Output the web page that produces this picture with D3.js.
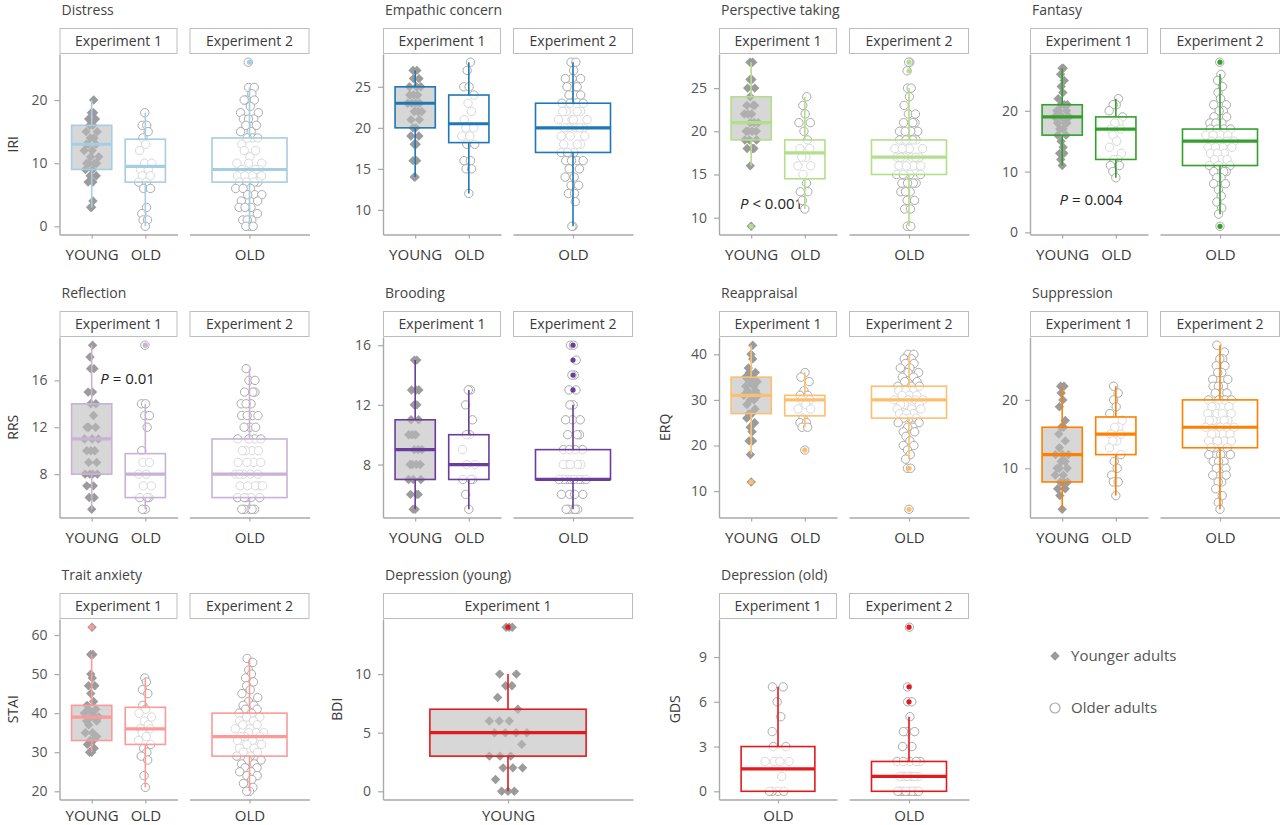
<!DOCTYPE html>
<html><head><meta charset="utf-8">
<script src="https://cdn.jsdelivr.net/npm/d3@7"></script>
<style>body{margin:0;background:#fff} svg{font-family:"Open Sans",sans-serif}</style>
</head><body><svg id="c" width="1280" height="825"></svg>
<script>
// ---------------- DATA ----------------
const panelTitles = ["Distress","Empathic concern","Perspective taking","Fantasy","Reflection","Brooding","Reappraisal","Suppression","Trait anxiety","Depression (young)","Depression (old)"];
const yAxisTitles = ["IRI","","","","RRS","","ERQ","","STAI","BDI","GDS"];
const panelColors = ["#a6cee3","#1f78b4","#b2df8a","#33a02c","#cab2d6","#6a3d9a","#fdbf6f","#ff7f00","#fb9a99","#e31a1c","#e31a1c"];
const facetLabels = ["Experiment 1","Experiment 2"];
const groupLabels = ["YOUNG","OLD"];
const legendLabels = ["Younger adults","Older adults"];
const yTicks = [[0,10,20],[10,15,20,25],[10,15,20,25],[0,10,20],[8,12,16],[8,12,16],[10,20,30,40],[10,20],[20,30,40,50,60],[0,5,10],[0,3,6,9]];

// points (Experiment 1 young, Experiment 1 old, Experiment 2 old)
const distressYoung = [20,18,18,17,17,16,16,15,15,14,14,13,13,13,12,12,11,11,10,10,10,10,9,9,8,8,7,7,4,3,3];
const distressOld1 = [18,16,16,15,14,13,12,10,10,9,9,8,8,7,7,6,6,3,2,1,1,0];
const distressOld2 = [26,22,22,21,20,20,20,19,18,18,17,17,17,16,16,15,15,14,14,14,13,12,12,11,10,10,10,9,9,9,8,8,8,8,7,7,7,7,6,6,6,5,5,5,4,4,3,3,3,2,1,1,1,0,0,0];
const empathicYoung = [27,27,26,26,25,25,25,24,24,24,23,23,23,23,22,22,22,21,21,20,20,19,19,18,18,16,16,14,14];
const empathicOld1 = [28,27,25,25,24,23,22,21,20,20,19,19,18,18,16,16,15,15,12];
const empathicOld2 = [28,28,27,26,26,26,25,25,24,24,24,23,23,23,22,22,22,22,21,21,21,21,20,20,20,20,20,19,19,19,18,18,18,17,17,17,16,16,16,16,15,15,14,14,13,13,12,12,11,8,8];
const perspectiveYoung = [28,28,26,26,25,25,24,23,23,23,22,22,22,21,21,21,20,20,20,20,19,19,19,18,18,18,16,9];
const perspectiveOld1 = [24,23,22,21,21,20,19,18,18,17,17,16,16,15,14,13,13,12,11];
const perspectiveOld2 = [28,28,27,25,25,24,23,22,22,21,21,21,20,20,20,20,19,19,19,19,18,18,18,18,18,17,17,17,17,17,17,16,16,16,16,16,15,15,15,15,14,14,14,14,13,13,13,12,12,11,11,9,9,9];
const fantasyYoung = [27,27,26,25,24,23,22,21,21,21,20,20,20,19,19,19,19,18,18,18,17,17,16,16,15,14,13,13,12,11];
const fantasyOld1 = [22,21,21,20,19,18,18,17,17,16,15,14,13,12,12,11,11,10,9];
const fantasyOld2 = [28,26,25,24,23,22,21,21,20,20,19,19,18,18,18,17,17,17,17,16,16,16,16,15,15,15,15,15,14,14,14,14,13,13,13,12,12,12,11,11,11,10,10,10,9,9,8,8,7,6,5,4,3,1];
const reflectionYoung = [19,18,17,17,15,15,14,14,13,12,12,12,11,11,11,10,10,10,9,9,8,8,8,8,7,7,6,6,5];
const reflectionOld1 = [19,14,14,13,13,12,10,9,9,8,8,7,7,6,6,6,5,5];
const reflectionOld2 = [17,16,16,15,15,15,14,14,14,13,13,13,13,12,12,12,11,11,11,11,10,10,10,10,9,9,9,9,8,8,8,8,8,7,7,7,7,7,6,6,6,6,6,5,5,5,5,5];
const broodingYoung = [15,15,13,13,13,12,12,11,11,10,10,10,9,9,9,8,8,8,8,7,7,7,6,6,6,5,5];
const broodingOld1 = [13,13,12,11,10,10,9,8,8,7,7,7,6,5];
const broodingOld2 = [16,16,15,14,14,13,13,12,12,11,11,11,10,10,10,9,9,9,9,8,8,8,8,8,7,7,7,7,7,7,7,7,6,6,6,6,5,5,5,5,5];
const reappraisalYoung = [42,40,39,37,36,36,35,35,34,34,33,33,32,32,31,31,31,30,30,29,28,27,27,26,25,24,23,21,21,18,12];
const reappraisalOld1 = [36,35,34,32,31,31,30,30,29,28,28,26,25,25,24,24,19];
const reappraisalOld2 = [40,40,39,39,38,38,37,37,36,36,35,35,34,34,33,33,33,32,32,32,31,31,31,30,30,30,30,29,29,29,28,28,28,27,27,27,26,26,26,25,25,24,24,23,23,22,21,20,20,19,18,17,15,15,6];
const suppressionYoung = [22,22,21,20,19,17,16,16,15,14,13,12,12,12,11,11,10,10,10,9,9,8,8,8,7,7,6,4];
const suppressionOld1 = [22,21,20,19,18,17,16,16,15,15,14,14,13,12,11,10,9,8,8,6];
const suppressionOld2 = [28,27,26,26,25,25,24,24,23,23,22,22,22,21,21,21,20,20,20,20,19,19,19,18,18,18,18,17,17,17,17,16,16,16,16,16,15,15,15,15,14,14,14,14,13,13,13,12,12,12,11,11,11,10,10,10,9,9,8,8,7,6,5,4];
const anxietyYoung = [62,55,55,50,49,47,47,45,43,42,41,41,40,40,39,39,39,38,38,37,35,35,34,33,33,32,31,30,30];
const anxietyOld1 = [49,48,46,45,42,41,40,39,38,37,36,36,35,34,33,32,31,30,29,28,24,21];
const anxietyOld2 = [54,53,51,50,49,48,47,46,45,44,43,42,42,41,41,40,40,39,39,38,38,37,37,36,36,35,35,35,34,34,34,33,33,32,32,31,31,30,30,29,29,28,28,27,27,26,26,25,25,24,24,23,22,21,20,20];
const bdiYoung = [14,14,14,10,10,9,9,8,7,6,6,6,5,5,5,5,4,3,3,3,2,2,2,1,0,0,0];
const gdsOld1 = [7,7,6,5,4,3,3,2,2,2,2,1,0,0,0,0];
const gdsOld2 = [11,7,6,6,5,4,4,4,3,3,2,2,2,2,2,1,1,1,1,1,1,0,0,0,0,0,0,0,0];

// box statistics [lower whisker, Q1, median, Q3, upper whisker] per group
const distressBoxes = [[3,9,13,16,20],[0,7,9.5,13.8,18],[0,7,9,14,22]];
const empathicBoxes = [[14,20,23,25,27],[12,18.2,20.5,24,28],[8,17,20,23,28]];
const perspectiveBoxes = [[16,19,21,24,28],[11,14.5,17.5,19,24],[9,15,17,19,25]];
const fantasyBoxes = [[11,16,19,21,27],[9,12,17,19,22],[3,11,15,17,26]];
const reflectionBoxes = [[5,8,11,14,19],[5,6,8,9.75,14],[5,6,8,11,17]];
const broodingBoxes = [[5,7,9,11,15],[5,7,8,10,13],[5,7,7,9,12]];
const reappraisalBoxes = [[18,27,31,35,42],[24,26.5,30,31,36],[17,26,30,33,40]];
const suppressionBoxes = [[4,8,12,16,22],[6,12,15,17.5,22],[4,13,16,20,28]];
const anxietyBoxes = [[30,33,39,42,55],[21,32,36,41.5,49],[20,29,34,40,54]];
const bdiBoxes = [[0,3,5,7,10]];
const gdsBoxes = [[0,0,1.5,3,7],[0,0,1,2,5]];

// boxplot outliers per group
const distressOutliers = [[],[],[26]];
const empathicOutliers = [[],[],[]];
const perspectiveOutliers = [[9],[],[27,28]];
const fantasyOutliers = [[],[],[28,1]];
const reflectionOutliers = [[],[19],[]];
const broodingOutliers = [[],[],[16,15,14,13]];
const reappraisalOutliers = [[12],[19],[15,6]];
const suppressionOutliers = [[],[],[]];
const anxietyOutliers = [[62],[],[]];
const bdiOutliers = [[14]];
const gdsOutliers = [[],[11,7,6]];

// significance labels
const pPanels = [2,3,4];
const pRest = [" < 0.001"," = 0.004"," = 0.01"];
const pValueY = [11.6,5.4,16.1];

const pointsByPanel = [
  [distressYoung,distressOld1,distressOld2],[empathicYoung,empathicOld1,empathicOld2],
  [perspectiveYoung,perspectiveOld1,perspectiveOld2],[fantasyYoung,fantasyOld1,fantasyOld2],
  [reflectionYoung,reflectionOld1,reflectionOld2],[broodingYoung,broodingOld1,broodingOld2],
  [reappraisalYoung,reappraisalOld1,reappraisalOld2],[suppressionYoung,suppressionOld1,suppressionOld2],
  [anxietyYoung,anxietyOld1,anxietyOld2],[bdiYoung],[gdsOld1,gdsOld2]];
const boxesByPanel = [distressBoxes,empathicBoxes,perspectiveBoxes,fantasyBoxes,reflectionBoxes,broodingBoxes,reappraisalBoxes,suppressionBoxes,anxietyBoxes,bdiBoxes,gdsBoxes];
const outliersByPanel = [distressOutliers,empathicOutliers,perspectiveOutliers,fantasyOutliers,reflectionOutliers,broodingOutliers,reappraisalOutliers,suppressionOutliers,anxietyOutliers,bdiOutliers,gdsOutliers];

// ---------------- LAYOUT ----------------
const svg = d3.select("#c");
const colX = [59.5, 383, 719, 1030];
const rowStrip = [28, 311, 593];
const rowLabelDy = ["1.2em","1.2em","0.95em"];
const STRIP_H = 26, PLOT_H = 180.5;
const F1W = 118, GAP = 12, F2W = 120;
const yTitleOffset = [-46,0,0,0,-46,0,-54,0,-46,-46,-44];
const pXFrac = {2:0.38, 3:0.54, 4:0.67};
const AX = "#a9a9a9", TXT = "#3a3a3a";

function vdc(n){let v=0,d=1;while(n>0){d*=2;v+=(n%2)/d;n=Math.floor(n/2);}return v;}
function quasi(vals, maxW){
  const n = vals.length, s = vals.slice().sort((a,b)=>a-b);
  const sd = d3.deviation(vals)||1;
  const iqr = d3.quantile(s,0.75)-d3.quantile(s,0.25);
  let h = 0.9*Math.min(sd, iqr>0?iqr/1.34:sd)*Math.pow(n,-0.2); if(!(h>0)) h=0.5;
  const ds = vals.map(v=>d3.sum(vals,u=>Math.exp(-0.5*((v-u)/h)**2)));
  const mx = d3.max(ds);
  const order = d3.range(n).sort((a,b)=>vals[a]-vals[b]||a-b);
  const off = new Array(n);
  order.forEach((idx,r)=>{off[idx]=(vdc(r+1)*2-1)*ds[idx]/mx*maxW;});
  return off;
}
const diamond = "M0,-4.7L4.7,0L0,4.7L-4.7,0Z";

panelTitles.forEach((title, pi)=>{
  const row = Math.floor(pi/4), col = pi%4;
  const X = colX[col];
  const top = rowStrip[row], pTop = top+STRIP_H, pBot = pTop+PLOT_H;
  const pts = pointsByPanel[pi], boxes = boxesByPanel[pi], outs = outliersByPanel[pi];
  const allV = pts.flat().concat(outs.flat());
  const [mn,mx] = d3.extent(allV);
  const pad = (mx-mn)*0.05;
  const y = d3.scaleLinear().domain([mn-pad, mx+pad]).range([pBot, pTop]);
  const color = panelColors[pi];

  let facets;
  if(pts.length===3){
    facets=[{label:facetLabels[0],x0:X,w:F1W,g:[0,1]},{label:facetLabels[1],x0:X+F1W+GAP,w:F2W,g:[2]}];
  } else if(pts.length===1){
    facets=[{label:facetLabels[0],x0:X,w:F1W+GAP+F2W,g:[0]}];
  } else {
    facets=[{label:facetLabels[0],x0:X,w:F1W,g:[0]},{label:facetLabels[1],x0:X+F1W+GAP,w:F2W,g:[1]}];
  }
  const catOf = gi => (pts.length===2) ? groupLabels[1] : (gi===0?groupLabels[0]:groupLabels[1]);
  const isYoung = gi => pts.length!==2 && gi===0;

  const g = svg.append("g");
  g.append("text").attr("x",X+2).attr("y",top-13).attr("font-size",14).attr("fill","#444").text(title);

  facets.forEach((f,fi)=>{
    const cats = f.g.map(catOf);
    const x = d3.scalePoint().domain(cats).range([f.x0,f.x0+f.w]).padding(0.6);
    const step = x.step();
    g.append("rect").attr("x",f.x0+0.5).attr("y",top+0.5).attr("width",f.w-1).attr("height",STRIP_H-1)
      .attr("fill","#fff").attr("stroke","#bdbdbd").attr("stroke-width",1);
    g.append("text").attr("x",f.x0+f.w/2).attr("y",top+STRIP_H/2+5).attr("text-anchor","middle")
      .attr("font-size",14).attr("fill",TXT).text(f.label);
    const xa = g.append("g").attr("transform",`translate(0,${pBot})`)
      .call(d3.axisBottom(x).tickSize(4).tickSizeOuter(0));
    xa.select(".domain").attr("stroke",AX).attr("stroke-width",1.4);
    xa.selectAll(".tick line").attr("stroke",AX).attr("stroke-width",1.2);
    xa.selectAll(".tick text").attr("font-size",15).attr("fill",TXT).attr("dy",rowLabelDy[row]).attr("font-family","Open Sans");
    if(fi===0){
      const ya = g.append("g").attr("transform",`translate(${X},0)`)
        .call(d3.axisLeft(y).tickValues(yTicks[pi]).tickSize(5).tickSizeOuter(0).tickPadding(7));
      ya.select(".domain").attr("stroke",AX).attr("stroke-width",1.4);
      ya.selectAll(".tick line").attr("stroke",AX).attr("stroke-width",1.2);
      ya.selectAll(".tick text").attr("font-size",14).attr("fill","#555").attr("font-family","Open Sans");
    }
    f.g.forEach(gi=>{
      const cx = x(catOf(gi));
      const vals = pts[gi];
      const maxW = Math.min(0.15*step, 22);
      const off = quasi(vals, maxW);
      const young = isYoung(gi);
      const pg = g.append("g");
      vals.forEach((v,k)=>{
        if(young){
          pg.append("path").attr("d",diamond).attr("transform",`translate(${cx+off[k]},${y(v)})`).attr("fill","#9b9b9b");
        } else {
          pg.append("circle").attr("cx",cx+off[k]).attr("cy",y(v)).attr("r",4.2)
            .attr("fill","#fff").attr("stroke","#ababab").attr("stroke-width",1);
        }
      });
      const [lo,q1,md,q3,hi] = boxes[gi];
      const bw = 0.375*step;
      const bx = g.append("g");
      bx.append("line").attr("x1",cx).attr("x2",cx).attr("y1",y(hi)).attr("y2",y(q3)).attr("stroke",color).attr("stroke-width",1.6);
      bx.append("line").attr("x1",cx).attr("x2",cx).attr("y1",y(q1)).attr("y2",y(lo)).attr("stroke",color).attr("stroke-width",1.6);
      bx.append("rect").attr("x",cx-bw).attr("y",y(q3)).attr("width",2*bw).attr("height",y(q1)-y(q3))
        .attr("fill",young?"#bdbdbd":"#fff").attr("fill-opacity",young?0.6:0.55)
        .attr("stroke",color).attr("stroke-width",1.6);
      bx.append("line").attr("x1",cx-bw).attr("x2",cx+bw).attr("y1",y(md)).attr("y2",y(md)).attr("stroke",color).attr("stroke-width",3.2);
      outs[gi].forEach(o=>{
        bx.append("circle").attr("cx",cx).attr("cy",y(o)).attr("r",2.6).attr("fill",color);
      });
      const pk = pPanels.indexOf(pi);
      if(pk>=0 && fi===0 && gi===0){
        const xs = x(groupLabels[0]) + pXFrac[pi]*(x(groupLabels[1])-x(groupLabels[0]));
        const t = g.append("text").attr("x",xs).attr("y",y(pValueY[pk])+5).attr("text-anchor","middle")
          .attr("font-size",15).attr("fill","#222");
        t.append("tspan").attr("font-style","italic").text("P");
        t.append("tspan").text(pRest[pk]);
      }
    });
  });
  if(yAxisTitles[pi]){
    const cy = (pTop+pBot)/2;
    g.append("text").attr("transform",`translate(${X+yTitleOffset[pi]},${cy}) rotate(-90)`)
      .attr("text-anchor","middle").attr("dy","0.35em").attr("font-size",14).attr("fill",TXT).text(yAxisTitles[pi]);
  }
});

const lg = svg.append("g");
lg.append("path").attr("d",diamond).attr("transform","translate(1055,656)").attr("fill","#9b9b9b");
lg.append("text").attr("x",1071).attr("y",661).attr("font-size",15).attr("fill","#555").text(legendLabels[0]);
lg.append("circle").attr("cx",1055).attr("cy",708).attr("r",5).attr("fill","#fff").attr("stroke","#ababab").attr("stroke-width",1.2);
lg.append("text").attr("x",1071).attr("y",713).attr("font-size",15).attr("fill","#555").text(legendLabels[1]);
</script></body></html>
